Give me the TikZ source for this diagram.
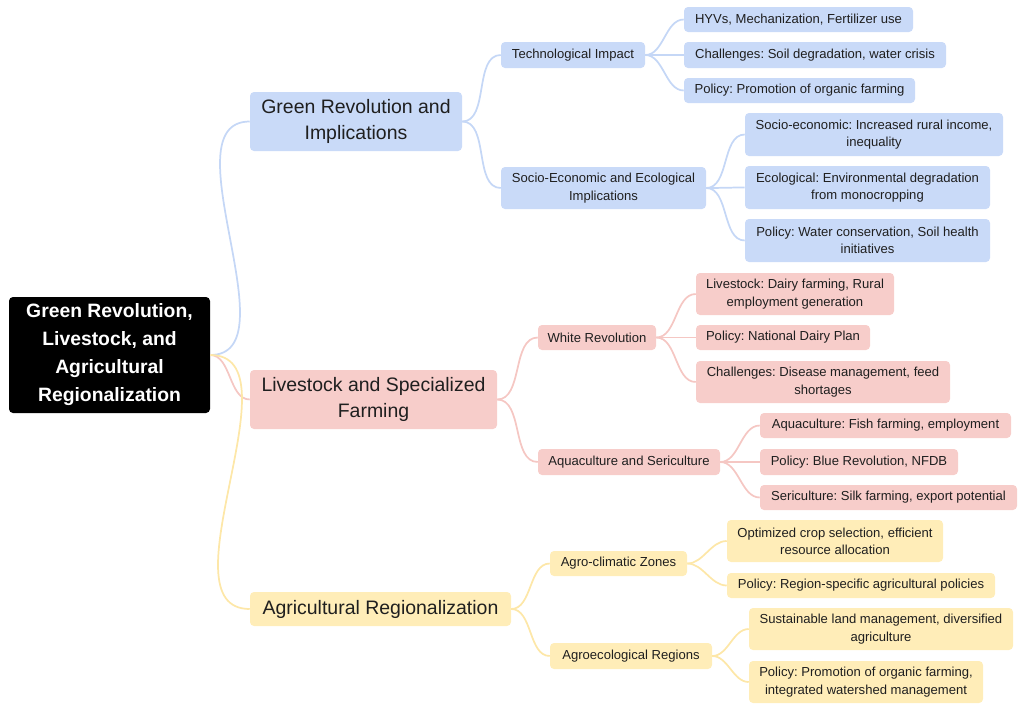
\documentclass[tikz,border=0pt]{standalone}
\usepackage{fontspec}
\setmainfont{Liberation Sans}
\frenchspacing
\definecolor{bF}{HTML}{C9DAF8}\definecolor{bL}{HTML}{C5D7F6}
\definecolor{rF}{HTML}{F7CDCA}\definecolor{rL}{HTML}{F5C7C3}
\definecolor{yF}{HTML}{FFEDB8}\definecolor{yL}{HTML}{FDE7A8}
\definecolor{tx}{HTML}{1F1F1F}
\tikzset{
 box/.style={rounded corners=3pt,inner sep=0pt,align=center,text=tx},
 l1/.style={box,font=\fontsize{14.6}{19}\selectfont},
 l2/.style={box,font=\fontsize{9.8}{13}\selectfont},
 sz/.style 2 args={minimum width=#1*0.75pt,minimum height=#2*0.75pt},
 con/.style={line width=1.3pt,out=0,in=180,looseness=0.9}
}
\begin{document}
\begin{tikzpicture}[x=0.75pt,y=-0.75pt]
\useasboundingbox (0,0) rectangle (1024,711);
\node[box,fill=black,text=white,font=\bfseries\fontsize{14.5}{21}\selectfont,sz={201}{116}] (root) at (109.5,355) {Green Revolution,\\Livestock, and\\Agricultural\\Regionalization};
% level 1
\node[l1,fill=bF,sz={212}{59}] (g) at (356,121.5) {Green Revolution and\\Implications};
\node[l1,fill=rF,sz={247}{59}] (r) at (373.5,399.5) {Livestock and Specialized\\Farming};
\node[l1,fill=yF,sz={261}{34}] (y) at (380.5,609) {Agricultural Regionalization};
% blue
\node[l2,fill=bF,sz={144}{26}] (g1) at (573,55) {Technological Impact};
\node[l2,fill=bF,sz={205}{42}] (g2) at (603.5,188) {Socio-Economic and Ecological\\Implications};
\node[l2,fill=bF,sz={229}{25}] (g11) at (798.5,19.5) {HYVs, Mechanization, Fertilizer use};
\node[l2,fill=bF,sz={262}{26}] (g12) at (815,55) {Challenges: Soil degradation, water crisis};
\node[l2,fill=bF,sz={231}{25}] (g13) at (799.5,90.5) {Policy: Promotion of organic farming};
\node[l2,fill=bF,sz={258}{43}] (g21) at (874,134.5) {Socio-economic: Increased rural income,\\inequality};
\node[l2,fill=bF,sz={245}{43}] (g22) at (867.5,187.5) {Ecological: Environmental degradation\\from monocropping};
\node[l2,fill=bF,sz={245}{43}] (g23) at (867.5,240.5) {Policy: Water conservation, Soil health\\initiatives};
% red
\node[l2,fill=rF,sz={118}{25}] (r1) at (597,337.5) {White Revolution};
\node[l2,fill=rF,sz={182}{26}] (r2) at (629,462) {Aquaculture and Sericulture};
\node[l2,fill=rF,sz={198}{42}] (r11) at (795,294) {Livestock: Dairy farming, Rural\\employment generation};
\node[l2,fill=rF,sz={174}{25}] (r12) at (783,337.5) {Policy: National Dairy Plan};
\node[l2,fill=rF,sz={254}{42}] (r13) at (823,382) {Challenges: Disease management, feed\\shortages};
\node[l2,fill=rF,sz={251}{25}] (r21) at (885.5,425.5) {Aquaculture: Fish farming, employment};
\node[l2,fill=rF,sz={198}{26}] (r22) at (859,462) {Policy: Blue Revolution, NFDB};
\node[l2,fill=rF,sz={257}{25}] (r23) at (888.5,497.5) {Sericulture: Silk farming, export potential};
% yellow
\node[l2,fill=yF,sz={137}{25}] (y1) at (618.5,563.5) {Agro-climatic Zones};
\node[l2,fill=yF,sz={162}{26}] (y2) at (631,656) {Agroecological Regions};
\node[l2,fill=yF,sz={216}{42}] (y11) at (835,541) {Optimized crop selection, efficient\\resource allocation};
\node[l2,fill=yF,sz={268}{25}] (y12) at (861,585.5) {Policy: Region-specific agricultural policies};
\node[l2,fill=yF,sz={264}{42}] (y21) at (881,629) {Sustainable land management, diversified\\agriculture};
\node[l2,fill=yF,sz={234}{42}] (y22) at (866,682) {Policy: Promotion of organic farming,\\integrated watershed management};
% connectors
\draw[con,bL] (root.east) to (g.west);
\draw[con,rL] (root.east) to (r.west);
\draw[con,yL] (root.east) to (y.west);
\foreach \c in {g1,g2} \draw[con,bL] (g.east) to (\c.west);
\foreach \c in {g11,g12,g13} \draw[con,bL] (g1.east) to (\c.west);
\foreach \c in {g21,g22,g23} \draw[con,bL] (g2.east) to (\c.west);
\foreach \c in {r1,r2} \draw[con,rL] (r.east) to (\c.west);
\foreach \c in {r11,r12,r13} \draw[con,rL] (r1.east) to (\c.west);
\foreach \c in {r21,r22,r23} \draw[con,rL] (r2.east) to (\c.west);
\foreach \c in {y1,y2} \draw[con,yL] (y.east) to (\c.west);
\foreach \c in {y11,y12} \draw[con,yL] (y1.east) to (\c.west);
\foreach \c in {y21,y22} \draw[con,yL] (y2.east) to (\c.west);
\end{tikzpicture}
\end{document}
